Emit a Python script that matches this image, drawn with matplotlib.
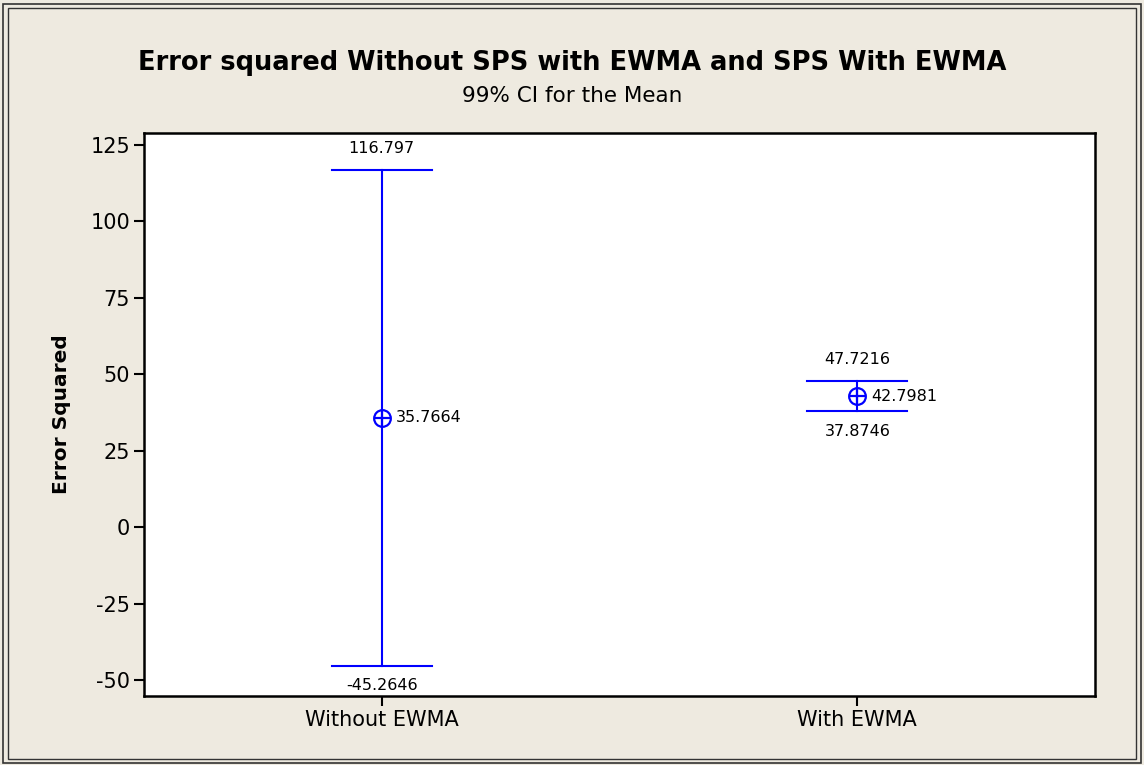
import matplotlib.pyplot as plt
from matplotlib.patches import Rectangle

# 99% CI for the mean
groups = ["Without EWMA", "With EWMA"]
means = [35.7664, 42.7981]
lower = [-45.2646, 37.8746]
upper = [116.797, 47.7216]
yticks = [-50, -25, 0, 25, 50, 75, 100, 125]

bg = "#eeeae0"
blue = "#0000ff"

fig = plt.figure(figsize=(11.44, 7.65), dpi=100, facecolor=bg)
# double outer frame
fig.patches.append(Rectangle((0.003, 0.003), 0.994, 0.992, transform=fig.transFigure,
                             fill=False, ec="#333333", lw=1.2))
fig.patches.append(Rectangle((0.007, 0.008), 0.986, 0.982, transform=fig.transFigure,
                             fill=False, ec="#333333", lw=1.0))

ax = fig.add_axes([144/1144, 1 - 696/765, (1095-144)/1144, (696-133)/765])
ax.set_facecolor("white")

x = range(1, len(groups) + 1)
cap = 0.105
for xi, m, lo, hi in zip(x, means, lower, upper):
    ax.plot([xi, xi], [lo, hi], color=blue, lw=1.5)
    ax.plot([xi - cap, xi + cap], [lo, lo], color=blue, lw=1.5)
    ax.plot([xi - cap, xi + cap], [hi, hi], color=blue, lw=1.5)
    ax.plot(xi, m, marker="o", ms=12, mfc="none", mec=blue, mew=1.6)
    ax.plot(xi, m, marker="+", ms=12, mec=blue, mew=1.6)
    ax.annotate(f"{hi:.6g}", (xi, hi), xytext=(0, 10), textcoords="offset points",
                ha="center", va="bottom", fontsize=11.5)
    ax.annotate(f"{lo:.6g}", (xi, lo), xytext=(0, -9), textcoords="offset points",
                ha="center", va="top", fontsize=11.5)
    ax.annotate(f"{m:.6g}", (xi, m), xytext=(10, 0), textcoords="offset points",
                ha="left", va="center", fontsize=11.5)

ax.set_xlim(0.5, 2.5)
ax.set_ylim(-55.2, 128.9)
ax.set_xticks(list(x))
ax.set_xticklabels(groups, fontsize=15)
ax.set_yticks(yticks)
ax.set_yticklabels([str(t) for t in yticks], fontsize=15)
ax.tick_params(direction="out", length=7, width=1.5, color="black", pad=3)
for s in ax.spines.values():
    s.set_linewidth(1.8)
    s.set_color("black")

ax.set_ylabel("Error Squared", fontsize=14.5, fontweight="bold", labelpad=14)

fig.text(0.5, 1 - 63/765, "Error squared Without SPS with EWMA and SPS With EWMA",
         ha="center", va="center", fontsize=18.5, fontweight="bold")
fig.text(0.5, 1 - 96/765, "99% CI for the Mean", ha="center", va="center", fontsize=15.5)

fig.savefig("out.png", dpi=100, facecolor=bg)
